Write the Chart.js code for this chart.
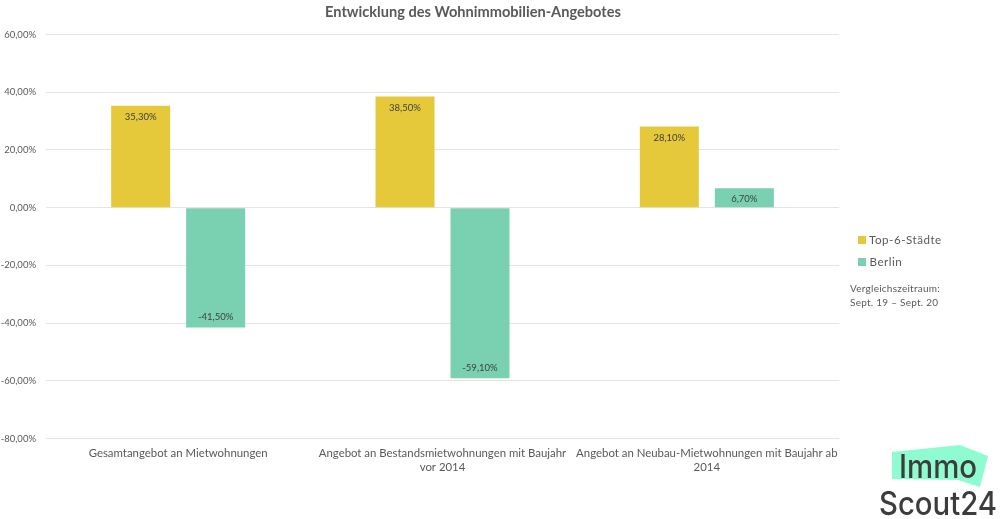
<!DOCTYPE html>
<html lang="de">
<head>
<meta charset="utf-8">
<title>Entwicklung des Wohnimmobilien-Angebotes</title>
<script src="https://cdn.jsdelivr.net/npm/chart.js@4"></script>
<style>
html, body { margin: 0; padding: 0; background: #fff; }
body { width: 1000px; height: 519px; position: relative; overflow: hidden; font-family: Lato, sans-serif; }
#chartBox { position: absolute; left: 0; top: 0; width: 946px; height: 519px; }
#legend { position: absolute; left: 858px; top: 230px; color: #595959; font-size: 11.6px; letter-spacing: 0.5px; }
#legend div { height: 22px; line-height: 20px; white-space: nowrap; }
#legend i { display: inline-block; width: 8px; height: 8px; margin-right: 0; vertical-align: 0; }
#note { position: absolute; left: 850px; top: 282px; color: #595959; font-size: 10px; line-height: 13.5px; letter-spacing: 0.25px; white-space: nowrap; }
#logo { position: absolute; left: 870px; top: 436px; }
</style>
</head>
<body>
<div id="chartBox"><canvas id="offersChart" width="946" height="519"></canvas></div>
<div id="legend"></div>
<div id="note">Vergleichszeitraum:<br>Sept. 19 – Sept. 20</div>
<svg id="logo" width="130" height="83" viewBox="870 436 130 83">
  <polygon points="892,452 960,445 988,456 980,487 958,480 892,479" fill="#8ffbd0"/>
  <text x="899" y="478" font-family="Inter, sans-serif" font-weight="500" font-size="32" fill="#3c3c3c" textLength="78" lengthAdjust="spacingAndGlyphs">Immo</text>
  <text x="879" y="515" font-family="Inter, sans-serif" font-weight="500" font-size="32" fill="#3c3c3c" textLength="118" lengthAdjust="spacingAndGlyphs">Scout24</text>
</svg>
<script>
// DATA
const categories = [
    ['Gesamtangebot an Mietwohnungen'],
    ['Angebot an Bestandsmietwohnungen mit Baujahr', 'vor 2014'],
    ['Angebot an Neubau-Mietwohnungen mit Baujahr ab', '2014']
];
const top6Values = [35.3, 38.5, 28.1];
const berlinValues = [-41.5, -59.1, 6.7];
const seriesNames = ['Top-6-Städte', 'Berlin'];
const seriesColors = ['#e6c93a', '#79d1b1'];

const textColor = '#595959';
const fontName = 'Lato, sans-serif';

function percentLabel(value) {
    return value.toFixed(2).replace('.', ',') + '%';
}

// value labels inside the end of each bar
const barLabels = {
    id: 'barLabels',
    afterDatasetsDraw(chart) {
        const ctx = chart.ctx;
        ctx.save();
        ctx.font = '9.5px ' + fontName;
        ctx.fillStyle = '#404040';
        ctx.textAlign = 'center';
        ctx.textBaseline = 'middle';
        chart.data.datasets.forEach((dataset, i) => {
            chart.getDatasetMeta(i).data.forEach((bar, j) => {
                const value = dataset.data[j];
                const y = value >= 0 ? bar.y + 11 : bar.y - 10.5;
                ctx.fillText(percentLabel(value), bar.x, y);
            });
        });
        ctx.restore();
    }
};

const chart = new Chart(document.getElementById('offersChart'), {
    type: 'bar',
    data: {
        labels: categories,
        datasets: [
            { label: seriesNames[0], data: top6Values, backgroundColor: seriesColors[0] },
            { label: seriesNames[1], data: berlinValues, backgroundColor: seriesColors[1] }
        ]
    },
    plugins: [barLabels],
    options: {
        responsive: false,
        animation: false,
        categoryPercentage: 0.5675,
        barPercentage: 0.787,
        plugins: {
            legend: { display: false },
            tooltip: { enabled: false },
            title: {
                display: true,
                text: 'Entwicklung des Wohnimmobilien-Angebotes',
                color: textColor,
                font: { family: fontName, size: 14.6, weight: 'bold' },
                padding: { top: 4, bottom: 13 }
            }
        },
        scales: {
            x: {
                grid: { display: false },
                border: { display: false },
                ticks: {
                    color: textColor,
                    autoSkip: false,
                    maxRotation: 0,
                    minRotation: 0,
                    padding: 0,
                    font: { family: fontName, size: 11.4, lineHeight: 1.2 }
                },
                afterFit(scale) { scale.height = 80.5; }
            },
            y: {
                min: -80,
                max: 60,
                border: { display: false },
                grid: { color: '#e4e4e4', drawTicks: false },
                ticks: {
                    stepSize: 20,
                    color: textColor,
                    padding: 10,
                    font: { family: fontName, size: 9.5 },
                    callback: value => percentLabel(value)
                },
                afterFit(scale) { scale.width = 46; }
            },
            // empty axis that keeps the room for the legend, so the title stays centred over the canvas
            spacer: {
                position: 'right',
                border: { display: false },
                grid: { display: false },
                ticks: { display: false },
                afterFit(scale) { scale.width = 107; }
            }
        }
    }
});

// legend next to the chart, built from the series arrays
const legendBox = document.getElementById('legend');
seriesNames.forEach((name, i) => {
    const row = document.createElement('div');
    const swatch = document.createElement('i');
    swatch.style.background = seriesColors[i];
    row.appendChild(swatch);
    row.appendChild(document.createTextNode(' ' + name));
    legendBox.appendChild(row);
});
</script>
</body>
</html>
